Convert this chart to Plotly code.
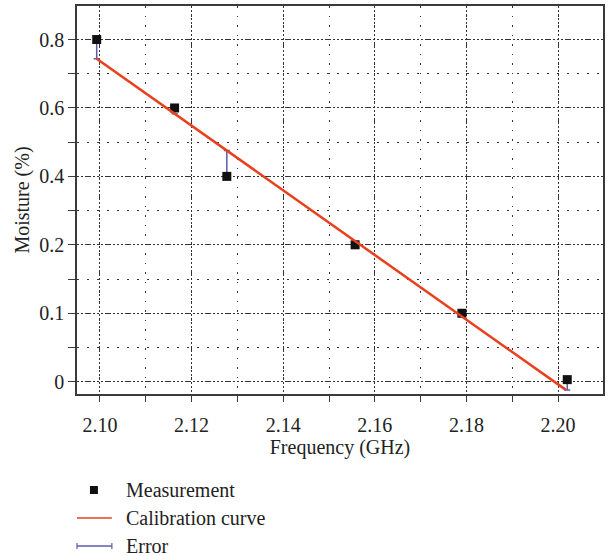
import numpy as np
import plotly.graph_objects as go

# Measured resonance frequency (GHz) against moisture content (%)
freq_ghz = [2.0993, 2.1163, 2.1277, 2.1557, 2.1790, 2.2020]
moisture = [0.8, 0.6, 0.4, 0.2, 0.1, 0.003]

# Calibration curve end points
calib_freq = [2.0993, 2.2017]
calib_moist = [0.744, -0.012]

# Y tick labels are evenly spaced on the axis
ytick_labels = [0, 0.1, 0.2, 0.4, 0.6, 0.8]
xtick_vals = [2.10, 2.12, 2.14, 2.16, 2.18, 2.20]

tick_pos = np.arange(len(ytick_labels), dtype=float)


def to_axis(v):
    """Map a moisture value to its position on the evenly spaced label axis."""
    v = np.asarray(v, dtype=float)
    pos = np.interp(v, ytick_labels, tick_pos)
    lo_slope = 1 / (ytick_labels[1] - ytick_labels[0])
    hi_slope = 1 / (ytick_labels[-1] - ytick_labels[-2])
    pos = np.where(v < ytick_labels[0], (v - ytick_labels[0]) * lo_slope, pos)
    pos = np.where(v > ytick_labels[-1], tick_pos[-1] + (v - ytick_labels[-1]) * hi_slope, pos)
    return pos


meas_pos = to_axis(moisture)
calib_pos = to_axis(calib_moist)
# Calibration curve position at each measured frequency (straight on the axis)
curve_at_meas = np.interp(freq_ghz, calib_freq, calib_pos)
diff = curve_at_meas - meas_pos
err_plus = np.where(diff > 0, diff, 0.0)
err_minus = np.where(diff < 0, -diff, 0.0)

RED = "#e8401c"
BLUE = "#5b5bab"
AXIS = "#3a3a3a"
TEXT = "#222222"
FONT = "Liberation Serif"

fig = go.Figure()

fig.add_trace(go.Scatter(
    x=freq_ghz, y=meas_pos, mode="markers",
    marker=dict(symbol="square", size=9, color="#111111"),
    error_y=dict(type="data", symmetric=False, array=err_plus, arrayminus=err_minus,
                 color=BLUE, thickness=1.5, width=3),
    showlegend=False,
))

fig.add_trace(go.Scatter(
    x=calib_freq, y=calib_pos, mode="lines",
    line=dict(color=RED, width=2.5),
    showlegend=False,
))

fig.update_xaxes(
    range=[2.095, 2.2098],
    tickvals=xtick_vals, ticktext=[f"{v:.2f}" for v in xtick_vals],
    ticks="outside", ticklen=6, tickwidth=1.2, tickcolor=AXIS,
    ticklabelstandoff=6,
    showline=True, linecolor=AXIS, linewidth=1.5, mirror=True,
    showgrid=True, gridcolor="#333333", gridwidth=1, griddash="1.5px,2.5px",
    minor=dict(dtick=0.01, tick0=2.09, ticks="outside", ticklen=6, tickcolor=AXIS,
               showgrid=True, gridcolor="#333333", gridwidth=1, griddash="1.5px,8px"),
    zeroline=False,
    tickfont=dict(family=FONT, size=20, color=TEXT),
    title=dict(text="Frequency (GHz)", font=dict(family=FONT, size=20, color=TEXT),
               standoff=4),
)

fig.update_yaxes(
    range=[-0.18, 5.49],
    tickvals=list(tick_pos), ticktext=[str(v) for v in ytick_labels],
    ticks="outside", ticklen=7, tickwidth=1.2, tickcolor=AXIS,
    showline=True, linecolor=AXIS, linewidth=1.5, mirror=True,
    showgrid=True, gridcolor="#333333", gridwidth=1, griddash="1.5px,2.5px",
    minor=dict(dtick=0.5, tick0=0.5, ticks="outside", ticklen=7, tickcolor=AXIS,
               showgrid=True, gridcolor="#333333", gridwidth=1, griddash="2px,8px"),
    zeroline=False,
    tickfont=dict(family=FONT, size=20, color=TEXT),
    title=dict(text="Moisture (%)", font=dict(family=FONT, size=20, color=TEXT),
               standoff=4),
)

# Legend below the plot, placed in pixel terms of the full figure
W, H = 609, 556
ML, MR, MT, MB = 77, 4, 6, 162
PW, PH = W - ML - MR, H - MT - MB
leg_x0, leg_x1 = 77, 112
rows = [490, 518, 546]


def px(x):
    return (x - ML) / PW


def py(y):
    return (H - MB - y) / PH


shapes = [
    dict(type="rect", xref="paper", yref="paper",
         x0=px(90), x1=px(98), y0=py(rows[0] + 4), y1=py(rows[0] - 4),
         fillcolor="#111111", line=dict(width=0)),
    dict(type="line", xref="paper", yref="paper",
         x0=px(leg_x0), x1=px(leg_x1), y0=py(rows[1]), y1=py(rows[1]),
         line=dict(color=RED, width=1.5)),
    dict(type="line", xref="paper", yref="paper",
         x0=px(leg_x0), x1=px(leg_x1), y0=py(rows[2]), y1=py(rows[2]),
         line=dict(color=BLUE, width=1.5)),
    dict(type="line", xref="paper", yref="paper",
         x0=px(leg_x0), x1=px(leg_x0), y0=py(rows[2] - 3), y1=py(rows[2] + 3),
         line=dict(color=BLUE, width=1.2)),
    dict(type="line", xref="paper", yref="paper",
         x0=px(leg_x1), x1=px(leg_x1), y0=py(rows[2] - 3), y1=py(rows[2] + 3),
         line=dict(color=BLUE, width=1.2)),
]
labels = ["Measurement", "Calibration curve", "Error"]
annotations = [
    dict(text=t, xref="paper", yref="paper", x=px(124), y=py(r), xanchor="left",
         yanchor="middle", showarrow=False,
         font=dict(family=FONT, size=20, color=TEXT))
    for t, r in zip(labels, rows)
]

fig.update_layout(
    width=W, height=H,
    margin=dict(l=ML, r=MR, t=MT, b=MB),
    font=dict(family=FONT, color=TEXT),
    paper_bgcolor="white", plot_bgcolor="white",
    shapes=shapes, annotations=annotations,
)

fig.write_html("out.html")
